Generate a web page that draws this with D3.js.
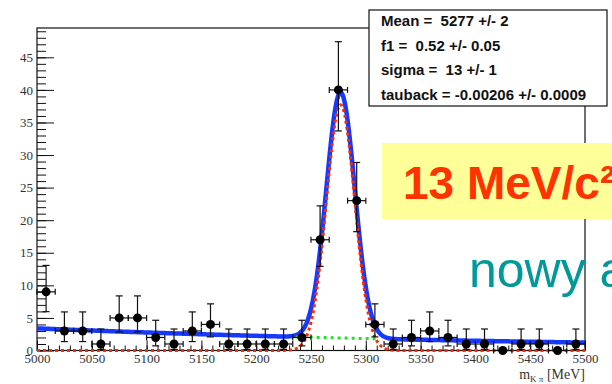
<!DOCTYPE html>
<html><head><meta charset="utf-8">
<script src="https://cdn.jsdelivr.net/npm/d3@7"></script>
<style>html,body{margin:0;padding:0;background:#fff;overflow:hidden}</style>
</head><body>
<svg id="c" width="612" height="384"></svg>
<script>
// Histogram of m(Kπ): bin centres (MeV), counts and Poisson error bounds
const binCenters = [5008.3, 5025, 5041.7, 5058.3, 5075, 5091.7, 5108.3, 5125, 5141.7, 5158.3,
                    5175, 5191.7, 5208.3, 5225, 5241.7, 5258.3, 5275, 5291.7, 5308.3, 5325,
                    5341.7, 5358.3, 5375, 5391.7, 5408.3, 5425, 5441.7, 5458.3, 5475, 5491.7];
const binHalfWidth = 8.33;
const counts = [9, 3, 3, 1, 5, 5, 2, 1, 3, 4,
                1, 1, 1, 1, 2, 17, 40, 23, 4, 1,
                2, 3, 2, 1, 1, 0, 1, 1, 0, 1];
const errLow  = [3.04, 1.63, 1.63, 0.83, 2.16, 2.16, 1.29, 0.83, 1.63, 1.91,
                 0.83, 0.83, 0.83, 0.83, 1.29, 4.08, 6.30, 4.76, 1.91, 0.83,
                 1.29, 1.63, 1.29, 0.83, 0.83, 0, 0.83, 0.83, 0, 0.83];
const errHigh = [4.06, 2.92, 2.92, 2.30, 3.38, 3.38, 2.64, 2.30, 2.92, 3.16,
                 2.30, 2.30, 2.30, 2.30, 2.64, 5.20, 7.40, 5.86, 3.16, 2.30,
                 2.64, 2.92, 2.64, 2.30, 2.30, 0, 2.30, 2.30, 0, 2.30];

// Fit result: Gaussian signal + exponential background
const fitMean = 5277;
const fitSigma = 13;
const fitTauBack = -0.00206;
const sigPeak = 37.7;       // signal height (events / bin)
const bkgAt5000 = 3.4;      // background level at 5000 MeV
const bkgShownRange = [5236, 5312];

// Axis ticks and text
const xMajorTicks = [5000, 5050, 5100, 5150, 5200, 5250, 5300, 5350, 5400, 5450, 5500];
const yMajorTicks = [0, 5, 10, 15, 20, 25, 30, 35, 40, 45];
const statsLines = ["Mean =  5277 +/- 2", "f1 =  0.52 +/- 0.05", "sigma =  13 +/- 1", "tauback = -0.00206 +/- 0.0009"];
const highlightText = "13 MeV/c²";
const noteText = "nowy a";

const svg = d3.select("#c");
const x = d3.scaleLinear().domain([5000, 5500]).range([37, 585]);
const y = d3.scaleLinear().domain([0, 49.5]).range([350.5, 28]);

const serif = "'Liberation Serif','Times New Roman',serif";
const sans = "'Liberation Sans',Arial,Helvetica,sans-serif";

// frame
svg.append("rect").attr("x", x(5000)).attr("y", y(49.5))
  .attr("width", x(5500) - x(5000)).attr("height", y(0) - y(49.5))
  .attr("fill", "none").attr("stroke", "#111").attr("stroke-width", 1.2);

// x axis: minor + major ticks pointing up
const xMinor = d3.range(5000, 5501, 10);
svg.append("g").attr("transform", `translate(0,${y(0)})`)
  .call(d3.axisBottom(x).tickValues(xMinor).tickSize(-5).tickFormat(""))
  .call(g => g.select(".domain").remove())
  .call(g => g.selectAll("line").attr("stroke", "#111"));
svg.append("g").attr("transform", `translate(0,${y(0)})`)
  .call(d3.axisBottom(x).tickValues(xMajorTicks).tickSize(-10).tickPadding(3).tickFormat(d3.format("d")))
  .call(g => g.select(".domain").remove())
  .call(g => g.selectAll("line").attr("stroke", "#111"))
  .call(g => g.selectAll("text").attr("font-family", serif).attr("font-size", 13).attr("fill", "#333"));

// y axis: minor + major ticks pointing right
const yMinor = d3.range(0, 50, 1);
svg.append("g").attr("transform", `translate(${x(5000)},0)`)
  .call(d3.axisLeft(y).tickValues(yMinor).tickSize(-9).tickFormat(""))
  .call(g => g.select(".domain").remove())
  .call(g => g.selectAll("line").attr("stroke", "#111"));
svg.append("g").attr("transform", `translate(${x(5000)},0)`)
  .call(d3.axisLeft(y).tickValues(yMajorTicks).tickSize(-17).tickPadding(4))
  .call(g => g.select(".domain").remove())
  .call(g => g.selectAll("line").attr("stroke", "#111"))
  .call(g => g.selectAll("text").attr("font-family", serif).attr("font-size", 13).attr("fill", "#333"));

// x axis title
const title = svg.append("text").attr("x", x(5500)).attr("y", 379)
  .attr("text-anchor", "end").attr("font-family", serif).attr("font-size", 14).attr("fill", "#333");
title.append("tspan").text("m");
title.append("tspan").attr("font-size", 9).attr("dy", 3).text("K π");
title.append("tspan").attr("dy", -3).text("  [MeV]");

// fit curves
const grid = d3.range(5000, 5500.01, 0.5);
const sig = m => sigPeak * Math.exp(-0.5 * Math.pow((m - fitMean) / fitSigma, 2));
const bkg = m => bkgAt5000 * Math.exp(fitTauBack * (m - 5000));
const line = d3.line().x(d => x(d[0])).y(d => y(d[1]));

svg.append("path").datum(grid.map(m => [m, sig(m) + bkg(m)]))
  .attr("d", line).attr("fill", "none").attr("stroke", "#1638ff").attr("stroke-width", 4.5);
svg.append("path").datum(grid.map(m => [m, sig(m)]))
  .attr("d", line).attr("fill", "none").attr("stroke", "#ff2a00").attr("stroke-width", 3)
  .attr("stroke-dasharray", "3,3");
svg.append("path").datum(grid.filter(m => m >= bkgShownRange[0] && m <= bkgShownRange[1]).map(m => [m, bkg(m)]))
  .attr("d", line).attr("fill", "none").attr("stroke", "#22e022").attr("stroke-width", 3)
  .attr("stroke-dasharray", "3,4");

// data points with error bars
const pts = binCenters.map((c, i) => ({c, n: counts[i], lo: errLow[i], hi: errHigh[i]}));
const pg = svg.append("g").attr("stroke", "#111").attr("stroke-width", 1.2);
pts.forEach(p => {
  const cx = x(p.c), cy = y(p.n);
  const g = pg.append("g");
  g.append("line").attr("x1", x(p.c - binHalfWidth)).attr("x2", x(p.c + binHalfWidth)).attr("y1", cy).attr("y2", cy);
  g.append("line").attr("x1", x(p.c - binHalfWidth)).attr("x2", x(p.c - binHalfWidth)).attr("y1", cy - 3).attr("y2", cy + 3);
  g.append("line").attr("x1", x(p.c + binHalfWidth)).attr("x2", x(p.c + binHalfWidth)).attr("y1", cy - 3).attr("y2", cy + 3);
  if (p.hi > 0) {
    g.append("line").attr("x1", cx).attr("x2", cx).attr("y1", y(p.n - p.lo)).attr("y2", y(p.n + p.hi));
    g.append("line").attr("x1", cx - 3.5).attr("x2", cx + 3.5).attr("y1", y(p.n + p.hi)).attr("y2", y(p.n + p.hi));
    g.append("line").attr("x1", cx - 3.5).attr("x2", cx + 3.5).attr("y1", y(p.n - p.lo)).attr("y2", y(p.n - p.lo));
  }
  g.append("circle").attr("cx", cx).attr("cy", cy).attr("r", 4.5).attr("fill", "#000").attr("stroke", "none");
});

// fit parameter box
svg.append("rect").attr("x", 369).attr("y", 10).attr("width", 238).attr("height", 96)
  .attr("fill", "#fff").attr("stroke", "#111").attr("stroke-width", 1.2);
svg.append("g").selectAll("text").data(statsLines).join("text")
  .attr("x", 381).attr("y", (d, i) => 26 + i * 24.7)
  .attr("font-family", sans).attr("font-weight", "bold").attr("font-size", 15)
  .attr("fill", "#111").style("white-space", "pre").text(d => d);

// highlighted resolution label
svg.append("rect").attr("x", 382).attr("y", 143).attr("width", 240).attr("height", 76).attr("fill", "#ffff99");
svg.append("text").attr("x", 403).attr("y", 199).attr("font-family", sans).attr("font-weight", "bold")
  .attr("font-size", 46).attr("fill", "#ff3300").text(highlightText);

svg.append("text").attr("x", 469).attr("y", 287).attr("font-family", sans)
  .attr("font-size", 50).attr("fill", "#009999").text(noteText);
</script>
</body></html>
